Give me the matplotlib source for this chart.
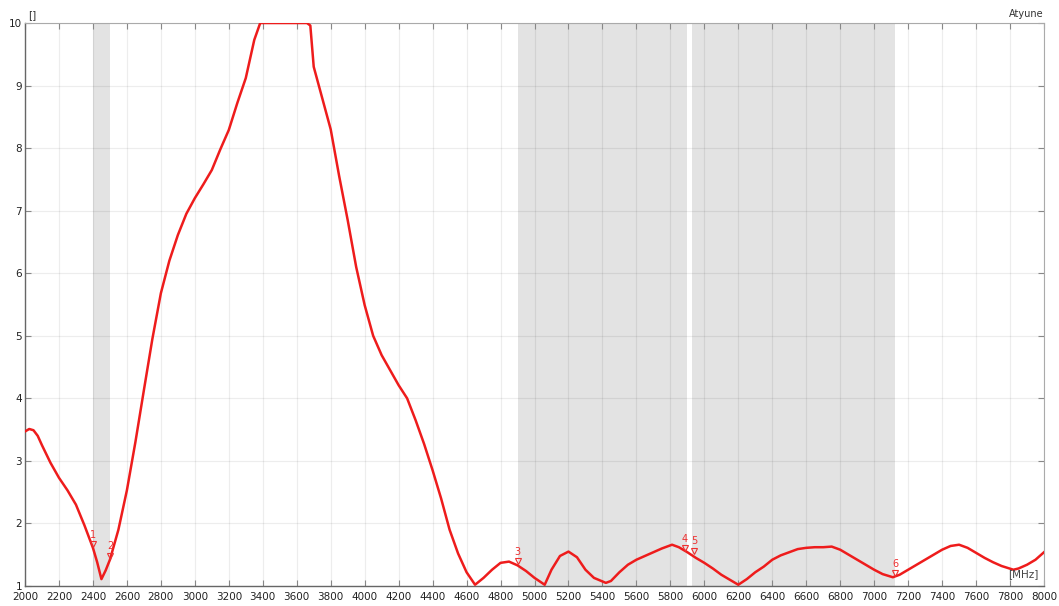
import matplotlib
matplotlib.use("Agg")
import matplotlib.pyplot as plt
import matplotlib.transforms as mtrans

freq = [2000, 2025, 2050, 2075, 2100, 2150, 2200, 2250, 2300, 2350, 2400, 2425, 2450, 2475,
        2500, 2550, 2600, 2650, 2700, 2750, 2800, 2850, 2900, 2950, 3000, 3050, 3100, 3150,
        3200, 3250, 3300, 3350, 3385, 3500, 3600, 3660, 3680, 3700, 3750, 3800, 3850, 3900,
        3950, 4000, 4050, 4100, 4150, 4200, 4250, 4300, 4350, 4400, 4450, 4500, 4550, 4600,
        4650, 4700, 4750, 4800, 4850, 4900, 4950, 5000, 5060, 5100, 5150, 5200, 5250, 5300,
        5350, 5420, 5450, 5500, 5550, 5600, 5650, 5700, 5750, 5810, 5850, 5900, 5950, 6000,
        6050, 6100, 6150, 6200, 6250, 6300, 6350, 6400, 6450, 6500, 6550, 6600, 6650, 6700,
        6750, 6800, 6850, 6900, 6950, 7000, 7050, 7110, 7150, 7200, 7250, 7300, 7350, 7400,
        7450, 7500, 7550, 7600, 7650, 7700, 7750, 7820, 7850, 7900, 7950, 8000]
vswr = [3.47, 3.51, 3.49, 3.40, 3.25, 2.97, 2.73, 2.53, 2.30, 1.97, 1.61, 1.38, 1.11, 1.25,
        1.42, 1.90, 2.53, 3.30, 4.13, 4.95, 5.68, 6.20, 6.61, 6.95, 7.20, 7.42, 7.65, 7.98,
        8.29, 8.72, 9.12, 9.73, 10.0, 10.0, 10.0, 10.0, 9.96, 9.30, 8.80, 8.30, 7.55, 6.85,
        6.10, 5.49, 5.00, 4.69, 4.45, 4.21, 4.00, 3.65, 3.27, 2.85, 2.40, 1.90, 1.52, 1.22,
        1.02, 1.13, 1.26, 1.37, 1.39, 1.33, 1.24, 1.13, 1.02, 1.26, 1.48, 1.55, 1.46, 1.26,
        1.13, 1.05, 1.08, 1.22, 1.34, 1.42, 1.48, 1.54, 1.60, 1.66, 1.62, 1.54, 1.45, 1.37,
        1.28, 1.18, 1.10, 1.02, 1.11, 1.22, 1.31, 1.42, 1.49, 1.54, 1.59, 1.61, 1.62, 1.62,
        1.63, 1.58, 1.50, 1.42, 1.34, 1.26, 1.19, 1.14, 1.18, 1.26, 1.34, 1.42, 1.50, 1.58,
        1.64, 1.66, 1.61, 1.53, 1.45, 1.38, 1.32, 1.26, 1.28, 1.34, 1.42, 1.54]

bands = [(2400, 2500), (4900, 5900), (5925, 7125)]
marker_freq = [2400, 2500, 4900, 5900, 5925, 7125]
marker_val = [1.61, 1.42, 1.33, 1.54, 1.50, 1.14]
marker_lbl = ["1", "2", "3", "4", "5", "6"]

xticks = list(range(2000, 8001, 200))
yticks = list(range(1, 11))

fig = plt.figure(figsize=(10.59, 6.06), dpi=100)
ax = fig.add_axes([25/1059, 20/606, (1044-25)/1059, (586-23)/606])

for a, b in bands:
    ax.axvspan(a, b, color="#e3e3e3", lw=0, zorder=0)

ax.plot(freq, vswr, color="#ee1c1c", lw=1.8, zorder=3)

red = "#ee3030"
for f, v, l in zip(marker_freq, marker_val, marker_lbl):
    dx = -2 if l == "4" else (2 if l == "5" else 0)
    off = mtrans.ScaledTranslation(dx/72, 3/72, fig.dpi_scale_trans)
    ax.plot([f], [v], marker="v", ms=5, mfc="none", mec=red, mew=0.8, zorder=4,
            transform=ax.transData + off)
    ax.annotate(l, xy=(f, v), xytext=(dx, 6), textcoords="offset points",
                ha="center", va="bottom", fontsize=7, color=red, zorder=4)

ax.set_xlim(2000, 8000)
ax.set_ylim(1, 10)
ax.set_xticks(xticks)
ax.set_yticks(yticks)
ax.grid(True, color="black", alpha=0.07, lw=0.9, zorder=1)
ax.set_axisbelow(True)
ax.tick_params(axis="both", direction="in", length=4, width=0.8, color="#888888",
               labelsize=7.5, labelcolor="#222222", top=True, right=True)
ax.tick_params(axis="x", pad=4)
ax.tick_params(axis="y", pad=2)
for s in ["left", "bottom"]:
    ax.spines[s].set_color("#666666")
    ax.spines[s].set_linewidth(1.0)
for s in ["top", "right"]:
    ax.spines[s].set_color("#aaaaaa")
    ax.spines[s].set_linewidth(0.8)

fig.text(28/1059, 1 - 15/606, "[]", fontsize=7.5, color="#333333", ha="left", va="center")
fig.text(1044/1059, 1 - 14/606, "Atyune", fontsize=7, color="#333333", ha="right", va="center")
ax.text(0.995, 0.012, "[MHz]", transform=ax.transAxes, fontsize=7.5, color="#444444",
        ha="right", va="bottom")

fig.savefig("out.png", dpi=100)
